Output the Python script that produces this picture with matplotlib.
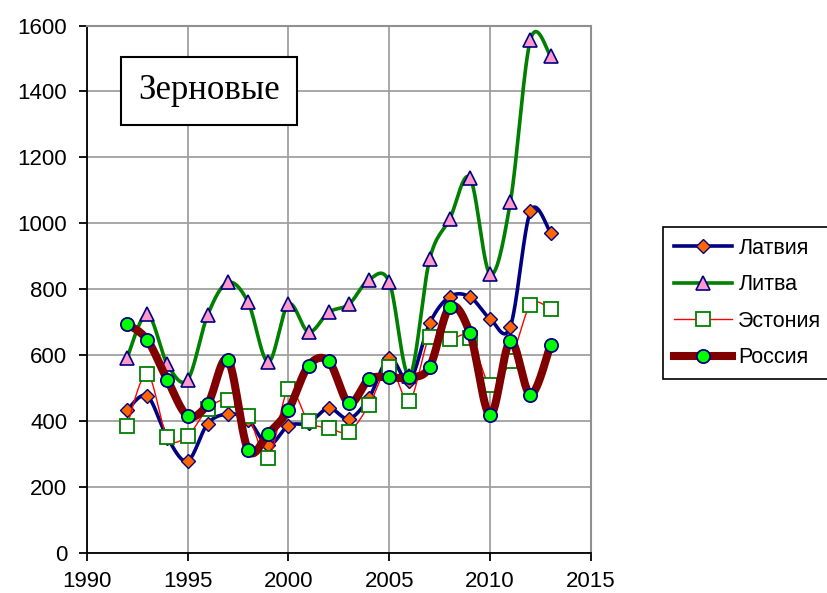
import numpy as np
import matplotlib
matplotlib.use("Agg")
import matplotlib.pyplot as plt
from matplotlib.lines import Line2D

years = list(range(1992, 2014))
latvia = [435, 477, 350, 280, 393, 422, 405, 328, 387, 395, 440, 408,
          472, 593, 523, 697, 778, 777, 711, 687, 1037, 971]
lithuania = [592, 725, 573, 526, 723, 821, 761, 580, 755, 671, 731, 755,
             830, 822, 538, 891, 1014, 1138, 846, 1064, 1557, 1507]
estonia = [387, 544, 352, 357, 437, 466, 417, 289, 498, 400, 380, 369,
           450, 565, 462, 656, 649, 654, 511, 583, 753, 740]
russia = [696, 647, 526, 417, 453, 587, 314, 363, 435, 569, 582, 455,
          528, 533, 533, 565, 747, 667, 419, 643, 481, 632]

series_names = ["Латвия", "Литва", "Эстония", "Россия"]
title_text = "Зерновые"
xticks = [1990, 1995, 2000, 2005, 2010, 2015]
yticks = list(range(0, 1601, 200))


def smooth(xs, ys, n=30):
    x = np.asarray(xs, float)
    y = np.asarray(ys, float)
    px = np.concatenate([[x[0]], x, [x[-1]]])
    py = np.concatenate([[y[0]], y, [y[-1]]])
    outx, outy = [], []
    t = np.linspace(0, 1, n)
    for i in range(len(x) - 1):
        p0x, p0y = px[i + 1], py[i + 1]
        p3x, p3y = px[i + 2], py[i + 2]
        c1x = p0x + (px[i + 2] - px[i]) / 6
        c1y = p0y + (py[i + 2] - py[i]) / 6
        c2x = p3x - (px[i + 3] - px[i + 1]) / 6
        c2y = p3y - (py[i + 3] - py[i + 1]) / 6
        bx = ((1 - t) ** 3 * p0x + 3 * (1 - t) ** 2 * t * c1x
              + 3 * (1 - t) * t ** 2 * c2x + t ** 3 * p3x)
        by = ((1 - t) ** 3 * p0y + 3 * (1 - t) ** 2 * t * c1y
              + 3 * (1 - t) * t ** 2 * c2y + t ** 3 * p3y)
        outx.extend(bx)
        outy.extend(by)
    return outx, outy


styles = [
    dict(color="#000080", lw=2.6, marker="D", mfc="#FF6600", mec="#000080", ms=7.5, mew=1.0),
    dict(color="#008000", lw=2.6, marker="^", mfc="#FF99CC", mec="#000080", ms=9.5, mew=1.2),
    dict(color="#FF0000", lw=1.0, marker="s", mfc="white", mec="#008000", ms=9.5, mew=1.3),
    dict(color="#800000", lw=5.8, marker="o", mfc="#00FF00", mec="#000080", ms=9.5, mew=1.3),
]
data = [latvia, lithuania, estonia, russia]

plt.rcParams["font.family"] = ["Liberation Sans", "DejaVu Sans"]
fig = plt.figure(figsize=(8.27, 5.93), dpi=100)
ax = fig.add_axes([86.7 / 827, 1 - 553.3 / 593, (591 - 86.7) / 827, (553.3 - 25.5) / 593])

handles = []
for z, (vals, st, name) in enumerate(zip(data, styles, series_names)):
    sx, sy = smooth(years, vals)
    ax.plot(sx, sy, color=st["color"], lw=st["lw"], solid_capstyle="round",
            solid_joinstyle="round", zorder=3 + z)
    ax.plot(years, vals, ls="none", marker=st["marker"], mfc=st["mfc"],
            mec=st["mec"], ms=st["ms"], mew=st["mew"], zorder=3 + z)
    handles.append(Line2D([], [], color=st["color"], lw=st["lw"], marker=st["marker"],
                          mfc=st["mfc"], mec=st["mec"], ms=st["ms"], mew=st["mew"],
                          label=name))

ax.set_xlim(1990, 2015)
ax.set_ylim(0, 1600)
ax.set_xticks(xticks)
ax.set_yticks(yticks)
ax.grid(True, color="#A0A0A0", lw=1.3, zorder=0)
ax.set_axisbelow(True)
for s in ["top", "right"]:
    ax.spines[s].set_color("#909090")
    ax.spines[s].set_linewidth(1.5)
for s in ["left", "bottom"]:
    ax.spines[s].set_color("black")
    ax.spines[s].set_linewidth(1.3)
ax.tick_params(axis="both", direction="out", length=6, width=1.3, labelsize=16,
               colors="black")
ax.tick_params(axis="y", pad=8)
ax.tick_params(axis="x", pad=7)

ax.text(0.2425, 0.876, title_text, transform=ax.transAxes, ha="center", va="center",
        fontsize=25, family=["Liberation Serif", "DejaVu Serif"],
        bbox=dict(boxstyle="square,pad=0.5", fc="white", ec="black", lw=1.5),
        zorder=10)

leg = fig.legend(handles=handles, loc="upper left", bbox_to_anchor=(663 / 827, 1 - 227 / 593),
                 borderaxespad=0, fontsize=15.5, handlelength=2.7, handletextpad=0.3,
                 labelspacing=0.72, fancybox=False, framealpha=1, edgecolor="black",
                 borderpad=0.5)
leg.get_frame().set_linewidth(1.2)

fig.savefig("out.png", dpi=100)
